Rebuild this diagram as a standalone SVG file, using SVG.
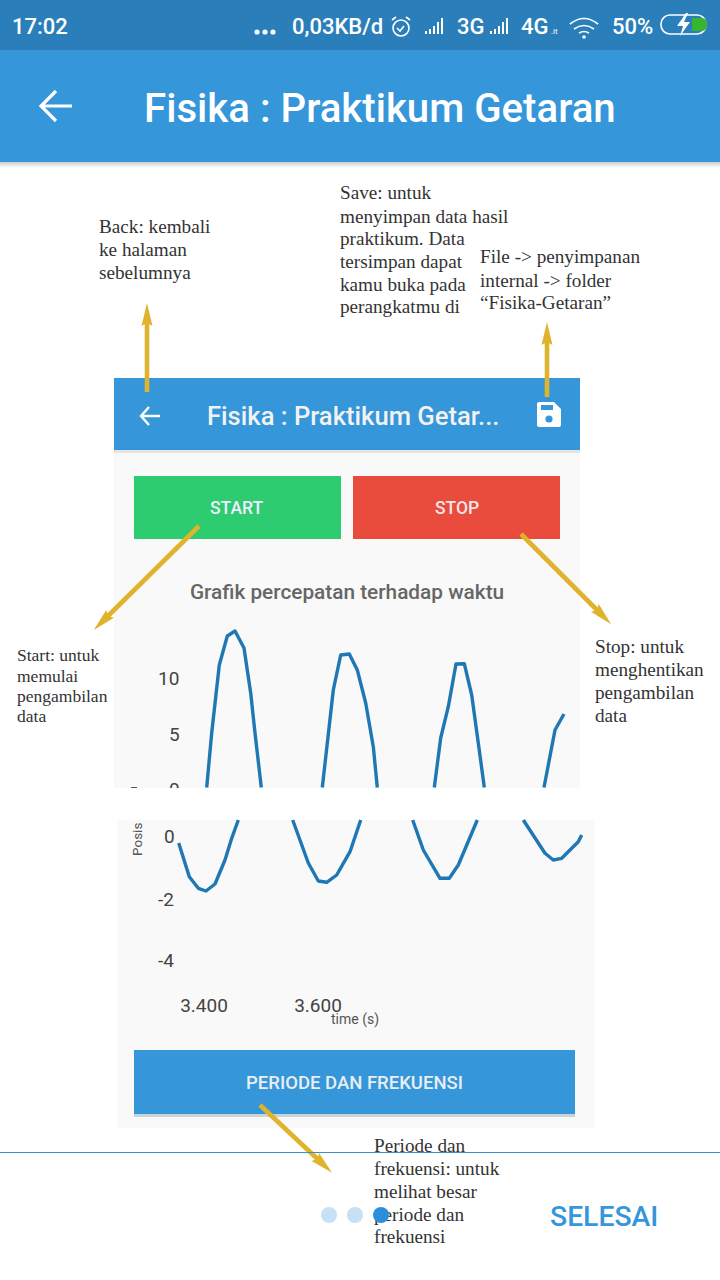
<svg xmlns="http://www.w3.org/2000/svg" width="720" height="1280" viewBox="0 0 720 1280">
<style>
.r{font-family:"Roboto","Liberation Sans",sans-serif}
.s{font-family:"Liberation Serif",serif;font-size:19.200px;fill:#333}
.w{fill:#fff}
.st{font-family:"Roboto","Liberation Sans",sans-serif;font-size:22px;font-weight:500;fill:#fff}
.ax{font-family:"Roboto","Liberation Sans",sans-serif;font-size:19px;fill:#444}
.c{fill:none;stroke:#1f78b4;stroke-width:3.4;stroke-linejoin:round;stroke-linecap:butt}
.a{stroke:#e0b32c;stroke-width:4.6;fill:none;marker-end:url(#h)}
.ic{fill:none;stroke:#fff;stroke-width:1.6}
</style>
<defs>
<marker id="h" markerUnits="userSpaceOnUse" markerWidth="26" markerHeight="16" refX="3" refY="8" orient="auto"><path d="M0 2.500L23 8L0 13.500L3 8Z" fill="#e0b32c"/></marker>
<linearGradient id="sh" x1="0" y1="0" x2="0" y2="1"><stop offset="0" stop-color="#ccc"/><stop offset="1" stop-color="#fff"/></linearGradient>
</defs>
<rect width="720" height="1280" fill="#fff"/>
<g id="status-bar">
<rect width="720" height="50" fill="#2a7fba"/>
<text x="12" y="34" class="st">17:02</text>
<circle cx="257" cy="32" r="2.6" class="w"/><circle cx="265" cy="32" r="2.6" class="w"/><circle cx="273" cy="32" r="2.6" class="w"/>
<text x="292" y="34" class="st">0,03KB/d</text>
<circle cx="401" cy="28" r="8" class="ic"/><path d="M397 28l3 3 4-5M392 20l4-3M410 20l-4-3" class="ic"/>
<path d="M425 31h2v3h-2zM429 29h2v5h-2zM433 26h2v8h-2zM437 22h2v12h-2zM441 18h2v16h-2z" class="w"/>
<text x="457" y="34" class="st">3G</text>
<path d="M490 31h2v3h-2zM494 29h2v5h-2zM498 26h2v8h-2zM502 22h2v12h-2zM506 18h2v16h-2z" class="w"/>
<text x="521" y="34" class="st">4G</text>
<text x="551" y="34" font-size="8" class="r w">.it</text>
<path d="M570 24q14-11 28 0M574 29q10-7 20 0M579 33q5-3 10 0" class="ic" stroke-width="2.2"/><circle cx="584" cy="37" r="1.8" class="w"/>
<text x="612" y="34" class="st">50%</text>
<rect x="661" y="15" width="45" height="19" rx="9" class="ic"/>
<path d="M692 18h10q5 0 5 6.500t-5 6.500h-10z" fill="#37b52f"/>
<path d="M686 13l-9 13h6l-3 10 10-14h-6l4-9z" fill="#fff"/>
</g>
<g id="app-bar">
<rect y="50" width="720" height="112" fill="#3596da"/>
<rect y="162" width="720" height="6" fill="url(#sh)"/>
<path d="M72 106H41M56 91L41 106L56 121" fill="none" stroke="#fff" stroke-width="3.200"/>
<text x="144" y="122" font-size="40.200" font-weight="500" class="r w">Fisika : Praktikum Getaran</text>
</g>
<g id="screenshot-top">
<rect x="114" y="378" width="466" height="410" fill="#f9f9f9"/>
<rect x="114" y="378" width="466" height="72" fill="#3596da"/>
<rect x="114" y="450" width="466" height="3" fill="#e4e4e4"/>
<path d="M160 416H141M149 407L141 416L149 425" fill="none" stroke="#fff" stroke-width="2.400"/>
<text x="207" y="425" font-size="25.600" font-weight="500" class="r" fill="#f2f2f2">Fisika : Praktikum Getar...</text>
<path d="M539 402h15l7 7v16q0 2-2 2h-20q-2 0-2-2v-21q0-2 2-2z" fill="#fff"/><rect x="541" y="405" width="12" height="5" fill="#3596da"/><circle cx="549" cy="419" r="3.600" fill="#3596da"/>
</g>
<g id="start"><rect x="134" y="476" width="207" height="63" fill="#2ecc71"/><text x="236.500" y="514" text-anchor="middle" font-size="17.500" font-weight="500" class="r" fill="#eef">START</text></g>
<g id="stop"><rect x="353" y="476" width="207" height="63" fill="#e94b3c"/><text x="457" y="514" text-anchor="middle" font-size="17.500" font-weight="500" class="r" fill="#f5e6e6">STOP</text></g>
<g id="chart">
<text x="347" y="599" text-anchor="middle" font-size="20.800" font-weight="500" class="r" fill="#666">Grafik percepatan terhadap waktu</text>
<rect x="117" y="820" width="478" height="308" fill="#f9f9f9"/>
<text x="158" y="685" class="ax">10</text><text x="169" y="741" class="ax">5</text>
<text x="169" y="796" class="ax">0</text>
<rect x="114" y="788" width="480" height="32" fill="#fff"/>
<rect x="131" y="787" width="6" height="1" fill="#555"/>
<text x="164" y="843" class="ax">0</text><text x="158" y="906" class="ax">-2</text><text x="158" y="967" class="ax">-4</text>
<text x="204" y="1012" text-anchor="middle" class="ax">3.400</text><text x="318" y="1012" text-anchor="middle" class="ax">3.600</text>
<text x="355" y="1024" text-anchor="middle" font-size="14" class="r" fill="#555">time (s)</text>
<text transform="translate(142 856) rotate(-90)" font-size="13.500" class="r" fill="#555">Posis</text>
<path class="c" d="M206.700 787.500L211.700 733L219.300 665L227.300 636L235 631L244 648L250.700 693L255 733L261.300 787.500"/>
<path class="c" d="M322.300 787.500L333.300 690L340.700 655L349.300 654L357.300 670L365.700 703L373.300 746.700L377.300 787.500"/>
<path class="c" d="M434.300 787.500L440.700 738L448.300 706.700L456 664L464.300 663.700L471.700 695L478.300 743L484.300 787.500"/>
<path class="c" d="M544 787.500L555 730L564 714"/>
<path class="c" d="M178.700 843L189.300 876.700L198.300 888.300L206 891L215 884L225 860L231.700 838.300L238.300 820"/>
<path class="c" d="M292.700 820L308.300 863L318.300 881L326.700 882.300L336.700 875L350 851.700L360.700 820"/>
<path class="c" d="M412.700 820L423.300 850L440 878.300L449.300 878.300L458.300 865L477.300 820"/>
<path class="c" d="M523.300 820L545 853.300L553.300 860L561.700 858.300L578.300 841.700L581.700 835"/>
</g>
<g id="periode"><rect x="134" y="1050" width="441" height="64" fill="#3596da"/><rect x="134" y="1114" width="441" height="3" fill="#c9d3da"/><text x="354.500" y="1089" text-anchor="middle" font-size="18.500" font-weight="500" class="r" fill="#e8eef2">PERIODE DAN FREKUENSI</text></g>
<g id="connectors">
<path class="a" d="M147 392V323"/>
<path class="a" d="M547 397V342"/>
<path class="a" d="M199 526L108 616"/>
<path class="a" d="M521 534L597 610"/>
<path class="a" d="M260 1105L317.500 1159"/>
</g>
<g id="notes">
<text class="s"><tspan x="99" y="233">Back: kembali</tspan><tspan x="99" y="256">ke halaman</tspan><tspan x="99" y="279">sebelumnya</tspan></text>
<text class="s"><tspan x="340" y="199">Save: untuk</tspan><tspan x="340" y="223">menyimpan data hasil</tspan><tspan x="340" y="245">praktikum. Data</tspan><tspan x="340" y="268">tersimpan dapat</tspan><tspan x="340" y="291">kamu buka pada</tspan><tspan x="340" y="313">perangkatmu di</tspan></text>
<text class="s"><tspan x="480" y="263">File -&gt; penyimpanan</tspan><tspan x="480" y="287">internal -&gt; folder</tspan><tspan x="480" y="309">“Fisika-Getaran”</tspan></text>
<text class="s" style="font-size:17.500px"><tspan x="17" y="661">Start: untuk</tspan><tspan x="17" y="682">memulai</tspan><tspan x="17" y="702">pengambilan</tspan><tspan x="17" y="722">data</tspan></text>
<text class="s"><tspan x="595" y="653">Stop: untuk</tspan><tspan x="595" y="676">menghentikan</tspan><tspan x="595" y="699">pengambilan</tspan><tspan x="595" y="722">data</tspan></text>
<text class="s"><tspan x="374" y="1152">Periode dan</tspan><tspan x="374" y="1175">frekuensi: untuk</tspan><tspan x="374" y="1198">melihat besar</tspan><tspan x="374" y="1221">periode dan</tspan><tspan x="374" y="1243">frekuensi</tspan></text>
</g>
<g id="footer">
<rect y="1152" width="720" height="1" fill="#3d8fc6"/>
<circle cx="329" cy="1215" r="8" fill="#c6e0f5"/><circle cx="355" cy="1215" r="8" fill="#c6e0f5"/><circle cx="381" cy="1215" r="8" fill="#2d8fdb"/>
<text x="550" y="1226" font-size="28.300" font-weight="500" class="r" fill="#3596da">SELESAI</text>
</g>
</svg>
